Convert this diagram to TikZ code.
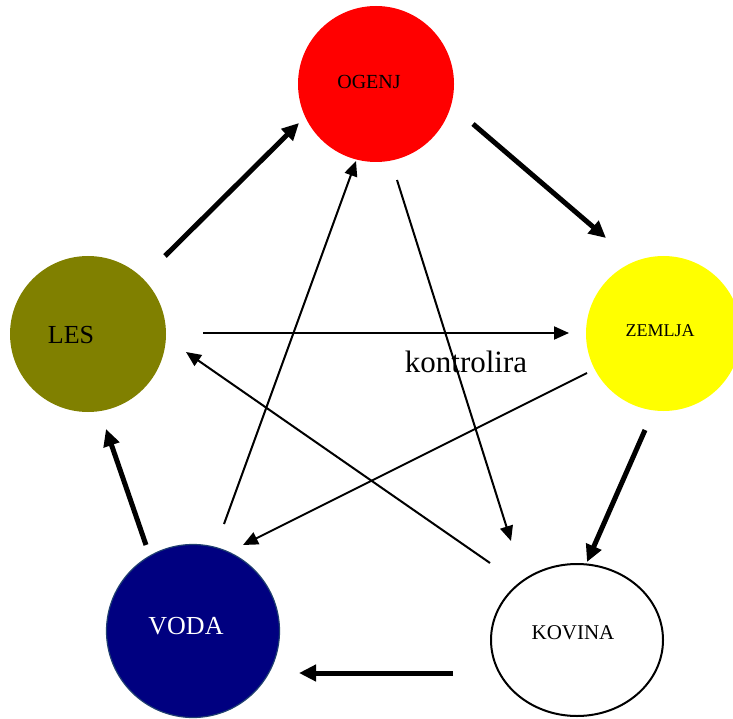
\documentclass[tikz,border=0pt]{standalone}
\usepackage{fontspec}
\setmainfont{Liberation Serif}
\usetikzlibrary{arrows.meta,shapes.geometric}
\definecolor{olivec}{HTML}{808000}
\definecolor{navyc}{HTML}{000080}
\definecolor{navyedge}{HTML}{1F3F70}
\definecolor{redc}{HTML}{FF0000}
\definecolor{yellowc}{HTML}{FFFF00}
\tikzset{
  elem/.style={circle, inner sep=0pt, minimum size=#1},
  lbl/.style={anchor=base, inner sep=0pt},
  thickarr/.style={line width=5pt, -{Triangle[length=17pt,width=16pt]}},
  thinarr/.style={line width=2pt, -{Triangle[length=15pt,width=13pt]}},
}
\begin{document}
\begin{tikzpicture}[x=1pt,y=-1pt]
\useasboundingbox (0,0) rectangle (733,719);
\clip (0,0) rectangle (733,719);
% elements
\node[elem=156pt, fill=redc] (ogenj) at (376,84) {};
\node[elem=155pt, fill=yellowc] (zemlja) at (663.5,333.5) {};
\node[ellipse, draw=black, line width=2pt, fill=white, minimum width=172pt, minimum height=152pt, inner sep=0pt] (kovina) at (577,640) {};
\node[elem=173pt, fill=navyc, draw=navyedge, line width=1.2pt] (voda) at (193,631) {};
\node[elem=156pt, fill=olivec] (les) at (88,334) {};
% labels
\node[lbl, font=\fontsize{20}{24}\selectfont] (tO) at (369,89) {OGENJ};
\node[lbl, font=\fontsize{18}{22}\selectfont] (tZ) at (660,336) {ZEMLJA};
\node[lbl, font=\fontsize{21}{25}\selectfont] (tK) at (573,639) {KOVINA};
\node[lbl, font=\fontsize{26}{30}\selectfont, text=white] (tV) at (186,634) {VODA};
\node[lbl, font=\fontsize{26}{30}\selectfont] (tL) at (71,343) {LES};
\node[lbl, font=\fontsize{31}{36}\selectfont] (ctrl) at (466,372) {kontrolira};
% connector end points
\coordinate (a1) at (165,256); \coordinate (b1) at (299,123);
\coordinate (a2) at (473,124); \coordinate (b2) at (606,238);
\coordinate (a3) at (645,430); \coordinate (b3) at (587,562);
\coordinate (a4) at (453,673); \coordinate (b4) at (299,673);
\coordinate (a5) at (146,545); \coordinate (b5) at (106,429);
\coordinate (c1) at (203,333); \coordinate (d1) at (569,333);
\coordinate (c2) at (587,373); \coordinate (d2) at (243,545);
\coordinate (c3) at (397,180); \coordinate (d3) at (511,541);
\coordinate (c4) at (490,563); \coordinate (d4) at (186,352);
\coordinate (c5) at (224,524); \coordinate (d5) at (356,161);
% generating cycle
\draw[thickarr] (a1) -- (b1);
\draw[thickarr] (a2) -- (b2);
\draw[thickarr] (a3) -- (b3);
\draw[thickarr] (a4) -- (b4);
\draw[thickarr] (a5) -- (b5);
% controlling cycle
\draw[thinarr] (c1) -- (d1);
\draw[thinarr] (c2) -- (d2);
\draw[thinarr] (c3) -- (d3);
\draw[thinarr] (c4) -- (d4);
\draw[thinarr] (c5) -- (d5);
\end{tikzpicture}
\end{document}
